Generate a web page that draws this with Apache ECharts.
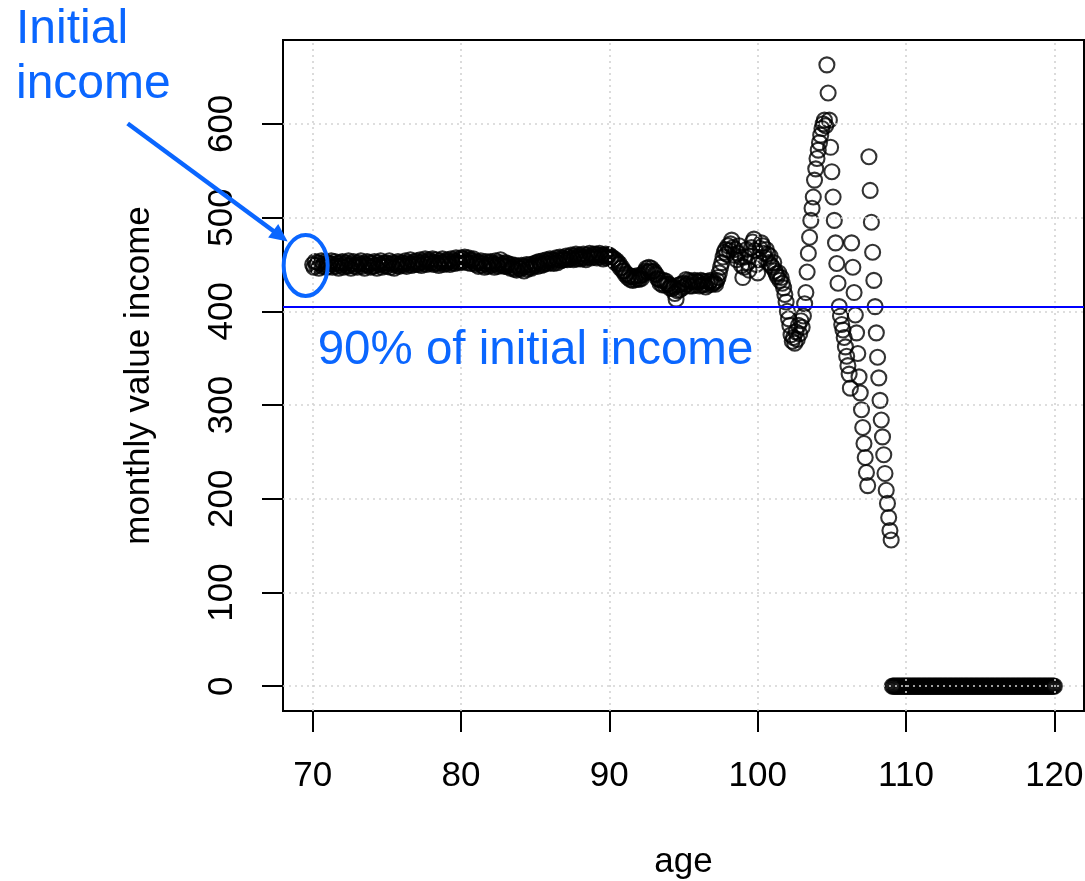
<!DOCTYPE html>
<html>
<head>
<meta charset="utf-8">
<script src="https://cdn.jsdelivr.net/npm/echarts@6/dist/echarts.min.js"></script>
<style>
  html, body { margin: 0; padding: 0; background: #fff; }
  #chart { width: 1085px; height: 881px; }
</style>
</head>
<body>
<div id="chart"></div>
<script>
// Monthly income paid from age 70 onwards, one value per month.
const startAge = 70;
const monthsPerYear = 12;

const income70s = [
  450, 447, 453, 449, 452, 446, 451, 454, 448, 450, 453, 447,  // 70
  452, 448, 451, 454, 447, 450, 453, 448, 451, 446, 452, 449,  // 71
  453, 447, 450, 452, 448, 454, 449, 446, 451, 453, 448, 450,  // 72
  447, 452, 450, 454, 448, 451, 446, 450, 453, 449, 452, 447,  // 73
  451, 448, 453, 449, 446, 452, 450, 454, 447, 451, 449, 452,  // 74
  448, 451, 454, 447, 450, 452, 446, 451, 449, 453, 448, 450,  // 75
  452, 449, 451, 454, 448, 452, 450, 455, 449, 451, 453, 450,  // 76
  454, 450, 452, 455, 449, 453, 451, 456, 450, 453, 455, 451,  // 77
  453, 456, 450, 452, 455, 451, 449, 454, 452, 456, 450, 453,  // 78
  451, 455, 453, 450, 456, 452, 454, 451, 457, 453, 455, 452   // 79
];
const income80s = [
  457, 453, 456, 458, 454, 452, 457, 455, 451, 454, 456, 452,  // 80
  450, 453, 448, 452, 454, 449, 451, 447, 453, 450, 448, 452,  // 81
  453, 449, 451, 447, 454, 450, 448, 452, 455, 449, 451, 448,  // 82
  452, 448, 451, 449, 446, 450, 447, 445, 449, 444, 448, 446,  // 83
  445, 449, 447, 443, 448, 450, 445, 447, 450, 446, 448, 451,  // 84
  449, 452, 448, 453, 451, 449, 454, 450, 452, 455, 451, 454,  // 85
  456, 452, 455, 451, 454, 457, 452, 455, 458, 454, 457, 455,  // 86
  456, 459, 455, 458, 456, 460, 457, 455, 459, 461, 456, 458,  // 87
  460, 456, 458, 461, 457, 455, 460, 458, 462, 457, 459, 461,  // 88
  458, 461, 457, 460, 462, 458, 460, 456, 459, 461, 457, 460   // 89
];
const income90s = [
  460, 457, 458, 455, 456, 452, 454, 450, 451, 446, 447, 443,  // 90
  443, 439, 440, 436, 438, 434, 437, 433, 437, 434, 438, 435,  // 91
  434, 438, 435, 439, 441, 443, 446, 442, 447, 443, 446, 442,  // 92
  443, 440, 439, 435, 434, 430, 433, 428, 433, 428, 432, 429,  // 93
  429, 425, 427, 424, 426, 419, 413, 422, 428, 423, 429, 425,  // 94
  430, 427, 434, 429, 433, 427, 432, 427, 431, 433, 428, 432,  // 95
  431, 427, 433, 428, 432, 429, 426, 432, 428, 431, 433, 429,  // 96
  430, 431, 429, 433, 436, 441, 447, 452, 458, 463, 466, 461,  // 97
  470, 465, 472, 476, 468, 460, 466, 455, 462, 470, 458, 449,  // 98
  436, 447, 458, 466, 452, 444, 459, 468, 474, 477, 465, 450   // 99
];
const income100s = [
  441, 455, 467, 473, 470, 462, 457, 466, 461, 452, 459, 449,  // 100
  447, 452, 443, 440, 437, 441, 433, 436, 430, 425, 418, 410,  // 101
  400, 392, 385, 375, 368, 372, 366, 378, 370, 385, 376, 390,  // 102
  383, 395, 408, 420, 442, 462, 479, 497, 510, 522, 540, 552,  // 103
  563, 572, 580, 588, 595, 600, 604, 598, 663, 633, 604, 575,  // 104
  549, 522, 497, 473, 451, 430, 405, 395, 386, 380, 372, 362,  // 105
  352, 342, 333, 318, 473, 447, 420, 396, 377, 355, 330, 313,  // 106
  295, 276, 259, 244, 228, 214, 565, 529, 495, 463, 433, 405,  // 107
  377, 351, 329, 305, 284, 266, 247, 227, 209, 195, 180, 166,  // 108
  156,   0,   0,   0,   0,   0,   0,   0,   0,   0,   0,   0   // 109
];
const income110s = [
  0, 0, 0, 0, 0, 0, 0, 0, 0, 0, 0, 0,  // 110
  0, 0, 0, 0, 0, 0, 0, 0, 0, 0, 0, 0,  // 111
  0, 0, 0, 0, 0, 0, 0, 0, 0, 0, 0, 0,  // 112
  0, 0, 0, 0, 0, 0, 0, 0, 0, 0, 0, 0,  // 113
  0, 0, 0, 0, 0, 0, 0, 0, 0, 0, 0, 0,  // 114
  0, 0, 0, 0, 0, 0, 0, 0, 0, 0, 0, 0,  // 115
  0, 0, 0, 0, 0, 0, 0, 0, 0, 0, 0, 0,  // 116
  0, 0, 0, 0, 0, 0, 0, 0, 0, 0, 0, 0,  // 117
  0, 0, 0, 0, 0, 0, 0, 0, 0, 0, 0, 0,  // 118
  0, 0, 0, 0, 0, 0, 0, 0, 0, 0, 0, 0,  // 119
  0                                    // 120
];

const ageTicks = [70, 80, 90, 100, 110, 120];
const incomeTicks = [0, 100, 200, 300, 400, 500, 600];

const monthlyIncome = [].concat(income70s, income80s, income90s, income100s, income110s);
const initialIncome = monthlyIncome[0];
const thresholdIncome = 0.9 * initialIncome;
const points = monthlyIncome.map((v, i) => [startAge + i / monthsPerYear, v]);

// Axis ranges: data range widened by 4% on each side
const ages = points.map(p => p[0]);
const xLo = Math.min(...ages), xHi = Math.max(...ages);
const yLo = Math.min(...monthlyIncome), yHi = Math.max(...monthlyIncome);
const xPad = 0.04 * (xHi - xLo), yPad = 0.04 * (yHi - yLo);

const FONT = '"Liberation Sans", Arial, Helvetica, sans-serif';
const NOTE_BLUE = '#0a66ff';

const chart = echarts.init(document.getElementById('chart'), null, { renderer: 'canvas' });

chart.setOption({
  animation: false,
  backgroundColor: '#ffffff',
  grid: {
    left: 283, top: 40, right: 1, bottom: 170,
    outerBoundsMode: 'none',
    containLabel: false,
    show: true, borderColor: '#000', borderWidth: 2, backgroundColor: 'transparent'
  },
  xAxis: {
    type: 'value',
    min: xLo - xPad, max: xHi + xPad,
    splitLine: { show: false },
    axisLine: { show: false, onZero: false },
    axisTick: { show: true, inside: false, length: 21, customValues: ageTicks,
                lineStyle: { color: '#000', width: 2 } },
    axisLabel: { customValues: ageTicks, color: '#000', fontSize: 35, fontFamily: FONT, margin: 48 },
    name: 'age', nameLocation: 'middle', nameGap: 134,
    nameTextStyle: { color: '#000', fontSize: 35, fontFamily: FONT }
  },
  yAxis: {
    type: 'value',
    min: yLo - yPad, max: yHi + yPad,
    splitLine: { show: false },
    axisLine: { show: false, onZero: false },
    axisTick: { show: true, inside: false, length: 21, customValues: incomeTicks,
                lineStyle: { color: '#000', width: 2 } },
    axisLabel: { customValues: incomeTicks, rotate: 90, color: '#000', fontSize: 35, fontFamily: FONT, margin: 43 },
    name: 'monthly value income', nameLocation: 'middle', nameGap: 126,
    nameTextStyle: { color: '#000', fontSize: 35, fontFamily: FONT }
  },
  series: [
    {
      name: 'income',
      type: 'scatter',
      data: points,
      symbol: 'circle',
      symbolSize: 15,
      itemStyle: { color: 'rgba(0,0,0,0)', borderColor: '#000', borderWidth: 2.1 },
      silent: true,
      z: 2
    },
    {
      // dotted reference grid, drawn over the points
      name: 'grid',
      type: 'line',
      data: [],
      z: 5,
      silent: true,
      markLine: {
        silent: true,
        symbol: ['none', 'none'],
        label: { show: false },
        lineStyle: { type: [2, 4], color: '#d3d3d3', width: 1.6 },
        data: ageTicks.map(a => ({ xAxis: a })).concat(incomeTicks.map(v => ({ yAxis: v })))
      }
    },
    {
      name: 'threshold',
      type: 'line',
      data: [],
      z: 6,
      silent: true,
      markLine: {
        silent: true,
        symbol: ['none', 'none'],
        label: { show: false },
        lineStyle: { type: 'solid', color: '#0000ff', width: 2 },
        data: [{ yAxis: thresholdIncome }]
      }
    }
  ]
});

// Annotations placed relative to the first payment and the 90% line
const start = chart.convertToPixel({ gridIndex: 0 }, [startAge, initialIncome]);
const lineY = chart.convertToPixel({ gridIndex: 0 }, [startAge, thresholdIncome]);

const tip = [start[0] - 25, start[1] - 23];
const tail = [start[0] - 185, start[1] - 141];
const dx = tip[0] - tail[0], dy = tip[1] - tail[1];
const len = Math.hypot(dx, dy);
const ux = dx / len, uy = dy / len;
const headLen = 18, headHalf = 8.5;
const base = [tip[0] - ux * headLen, tip[1] - uy * headLen];

chart.setOption({
  graphic: [
    {
      type: 'ellipse', z: 20, silent: true,
      shape: { cx: start[0] - 7, cy: start[1] + 1, rx: 22, ry: 30.5 },
      style: { fill: 'none', stroke: NOTE_BLUE, lineWidth: 4 }
    },
    {
      type: 'line', z: 20, silent: true,
      shape: { x1: tail[0], y1: tail[1], x2: base[0] + ux * 2, y2: base[1] + uy * 2 },
      style: { stroke: NOTE_BLUE, lineWidth: 4.5 }
    },
    {
      type: 'polygon', z: 20, silent: true,
      shape: { points: [
        tip,
        [base[0] - uy * headHalf, base[1] + ux * headHalf],
        [base[0] + uy * headHalf, base[1] - ux * headHalf]
      ] },
      style: { fill: NOTE_BLUE }
    },
    {
      type: 'text', z: 20, silent: true, x: 16, y: 30,
      style: { text: 'Initial', fill: NOTE_BLUE, font: '48px ' + FONT, textVerticalAlign: 'middle' }
    },
    {
      type: 'text', z: 20, silent: true, x: 16, y: 85,
      style: { text: 'income', fill: NOTE_BLUE, font: '48px ' + FONT, textVerticalAlign: 'middle' }
    },
    {
      type: 'text', z: 20, silent: true, x: lineY[0] + 5, y: lineY[1] + 44,
      style: { text: '90% of initial income', fill: NOTE_BLUE, font: '47.5px ' + FONT, textVerticalAlign: 'middle' }
    }
  ]
});
</script>
</body>
</html>
